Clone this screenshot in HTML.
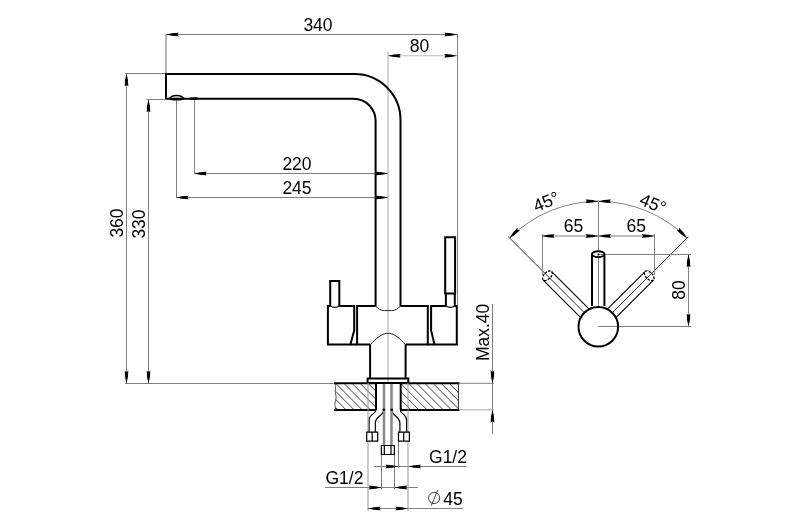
<!DOCTYPE html>
<html><head><meta charset="utf-8"><style>
html,body{margin:0;padding:0;background:#fff;}
svg{display:block;will-change:transform;}
text{font-family:"Liberation Sans",sans-serif;fill:#000;}
</style></head><body>
<svg width="800" height="527" viewBox="0 0 800 527">
<rect width="800" height="527" fill="#fff"/>
<line x1="166" y1="34.5" x2="457" y2="34.5" stroke="#808080" stroke-width="1" fill="none"/>
<line x1="166" y1="34" x2="166" y2="73" stroke="#707070" stroke-width="1"/>
<line x1="457.5" y1="33.5" x2="457.5" y2="305" stroke="#808080" stroke-width="1" fill="none"/>
<text x="318" y="31" font-size="17.5" text-anchor="middle">340</text>
<line x1="388" y1="55.8" x2="457" y2="55.8" stroke="#b8b8b8" stroke-width="1"/>
<line x1="388" y1="52" x2="388" y2="120" stroke="#a8a8a8" stroke-width="1" fill="none"/>
<text x="419.5" y="52.3" font-size="17.5" text-anchor="middle">80</text>
<line x1="194" y1="173.5" x2="388" y2="173.5" stroke="#808080" stroke-width="1" fill="none"/>
<line x1="194.5" y1="99" x2="194.5" y2="173.5" stroke="#808080" stroke-width="1" fill="none"/>
<text x="297" y="169.8" font-size="17.5" text-anchor="middle">220</text>
<line x1="176" y1="197.5" x2="388" y2="197.5" stroke="#808080" stroke-width="1" fill="none"/>
<line x1="176.5" y1="99" x2="176.5" y2="197.5" stroke="#808080" stroke-width="1" fill="none"/>
<text x="297" y="193.8" font-size="17.5" text-anchor="middle">245</text>
<line x1="126.5" y1="73.5" x2="126.5" y2="383" stroke="#808080" stroke-width="1" fill="none"/>
<line x1="125" y1="73.5" x2="165" y2="73.5" stroke="#808080" stroke-width="1" fill="none"/>
<line x1="125" y1="383.5" x2="334" y2="383.5" stroke="#808080" stroke-width="1" fill="none"/>
<text x="123" y="223" font-size="17.5" text-anchor="middle" transform="rotate(-90 123 223)">360</text>
<line x1="148.5" y1="99.5" x2="148.5" y2="383" stroke="#808080" stroke-width="1" fill="none"/>
<line x1="146.5" y1="99.5" x2="166" y2="99.5" stroke="#808080" stroke-width="1" fill="none"/>
<text x="144.5" y="224" font-size="17.5" text-anchor="middle" transform="rotate(-90 144.5 224)">330</text>
<line x1="492.5" y1="304" x2="492.5" y2="434" stroke="#808080" stroke-width="1" fill="none"/>
<line x1="460" y1="383.3" x2="494" y2="383.3" stroke="#808080" stroke-width="1" fill="none"/>
<line x1="460" y1="409.8" x2="494" y2="409.8" stroke="#a8a8a8" stroke-width="1" fill="none"/>
<text x="488.8" y="332.4" font-size="17.5" text-anchor="middle" transform="rotate(-90 488.8 332.4)">Max.40</text>
<line x1="374" y1="466.5" x2="466.5" y2="466.5" stroke="#808080" stroke-width="1" fill="none"/>
<text x="448" y="462.7" font-size="17.5" text-anchor="middle">G1/2</text>
<line x1="325" y1="487.5" x2="418" y2="487.5" stroke="#808080" stroke-width="1" fill="none"/>
<text x="344.4" y="484" font-size="17.5" text-anchor="middle">G1/2</text>
<line x1="368" y1="508.5" x2="463" y2="508.5" stroke="#808080" stroke-width="1" fill="none"/>
<text x="453" y="504.8" font-size="17.5" text-anchor="middle">45</text>
<circle cx="434.1" cy="498" r="5.6" stroke="#333" stroke-width="0.9" fill="none"/>
<line x1="431.2" y1="505.7" x2="437.8" y2="490" stroke="#333" stroke-width="0.9"/>
<line x1="368" y1="441" x2="368" y2="511" stroke="#999" stroke-width="1" fill="none"/>
<line x1="408" y1="441" x2="408" y2="511" stroke="#999" stroke-width="1" fill="none"/>
<line x1="381.5" y1="454" x2="381.5" y2="489" stroke="#808080" stroke-width="1" fill="none"/>
<line x1="394.5" y1="454" x2="394.5" y2="489" stroke="#808080" stroke-width="1" fill="none"/>
<line x1="398.5" y1="441" x2="398.5" y2="468" stroke="#808080" stroke-width="1" fill="none"/>
<path d="M166,74 H354.5 A46,46 0 0 1 400.5,120 V306" stroke="#000" stroke-width="2" fill="none"/>
<path d="M166,73 V99" stroke="#000" stroke-width="2" fill="none"/>
<path d="M166,98.8 H353.5 A22,22 0 0 1 375.6,120.8 V306" stroke="#000" stroke-width="2" fill="none"/>
<path d="M169.8,98.9 A6.8,3.4 0 0 1 183.4,98.9" stroke="#000" stroke-width="1.7" fill="none"/>
<ellipse cx="176.6" cy="99.2" rx="7" ry="1.4" fill="#000"/>
<ellipse cx="194.2" cy="98.5" rx="4.5" ry="1.3" fill="#000"/>
<line x1="388" y1="120" x2="388" y2="383" stroke="#a8a8a8" stroke-width="1" fill="none"/>
<path d="M330.2,306 V281 H339.3 V306" stroke="#000" stroke-width="2" fill="none"/>
<path d="M445.9,306 V293.4 H445.2 V237.3 H455.1 V293.4 H454.8 V306 M445.2,293.4 H455.1" stroke="#000" stroke-width="2" fill="none"/>
<path d="M339.3,306 H354.2 V330.4 L350.4,344.6 H327.9 V306 H330.2" stroke="#000" stroke-width="2" fill="none"/>
<path d="M330.2,306 Q334.75,308.6 339.3,306" stroke="#000" stroke-width="1.3" fill="none"/>
<path d="M454.8,306 H456.8 V344.6 H434.5 L431.1,330.4 V306 H445.9" stroke="#000" stroke-width="2" fill="none"/>
<path d="M445.9,306 Q450.35,308.6 454.8,306" stroke="#000" stroke-width="1.3" fill="none"/>
<path d="M375.6,306 H357.1 V344.6 H370.1 M405.6,344.6 H427.8 V306 H400.5" stroke="#000" stroke-width="2" fill="none"/>
<path d="M375.6,306 C378,309 381,310.6 384.5,310.6 H391.3 C395,310.6 398,309 400.5,306" stroke="#222" stroke-width="1" fill="none"/>
<path d="M370.4,344.6 C376,338.5 382,333.6 386.5,333.4 H389.5 C394,333.6 400,338.5 405.4,344.6" stroke="#222" stroke-width="1" fill="none"/>
<path d="M350.4,344.6 H357.1 M427.8,344.6 H434.5" stroke="#000" stroke-width="2" fill="none"/>
<path d="M370.1,344.6 V378.4 M405.6,344.6 V378.4" stroke="#000" stroke-width="2" fill="none"/>
<path d="M367.6,378.4 H408.3 V383 H367.6 Z" stroke="#000" stroke-width="2" fill="none"/>
<defs><clipPath id="cl"><path d="M335.3,383.2 H376 V409.9 H335.3 Z M400.7,383.2 H459 V409.9 H400.7 Z"/></clipPath></defs>
<g clip-path="url(#cl)" stroke="#404040" stroke-width="1"><line x1="238.20000000000005" y1="383" x2="265.20000000000005" y2="410"/><line x1="246.30000000000004" y1="383" x2="273.30000000000007" y2="410"/><line x1="254.40000000000003" y1="383" x2="281.40000000000003" y2="410"/><line x1="262.5" y1="383" x2="289.5" y2="410"/><line x1="270.6" y1="383" x2="297.6" y2="410"/><line x1="278.70000000000005" y1="383" x2="305.70000000000005" y2="410"/><line x1="286.8" y1="383" x2="313.8" y2="410"/><line x1="294.9" y1="383" x2="321.9" y2="410"/><line x1="303.0" y1="383" x2="330.0" y2="410"/><line x1="311.1" y1="383" x2="338.1" y2="410"/><line x1="319.2" y1="383" x2="346.2" y2="410"/><line x1="327.3" y1="383" x2="354.3" y2="410"/><line x1="335.4" y1="383" x2="362.4" y2="410"/><line x1="343.5" y1="383" x2="370.5" y2="410"/><line x1="351.6" y1="383" x2="378.6" y2="410"/><line x1="359.7" y1="383" x2="386.7" y2="410"/><line x1="367.8" y1="383" x2="394.8" y2="410"/><line x1="375.9" y1="383" x2="402.9" y2="410"/><line x1="384.0" y1="383" x2="411.0" y2="410"/><line x1="392.1" y1="383" x2="419.1" y2="410"/><line x1="400.2" y1="383" x2="427.2" y2="410"/><line x1="408.3" y1="383" x2="435.3" y2="410"/><line x1="416.4" y1="383" x2="443.4" y2="410"/><line x1="424.5" y1="383" x2="451.5" y2="410"/><line x1="432.6" y1="383" x2="459.6" y2="410"/><line x1="440.7" y1="383" x2="467.7" y2="410"/><line x1="448.8" y1="383" x2="475.8" y2="410"/><line x1="456.9" y1="383" x2="483.9" y2="410"/><line x1="465.0" y1="383" x2="492.0" y2="410"/><line x1="473.1" y1="383" x2="500.1" y2="410"/><line x1="481.2" y1="383" x2="508.2" y2="410"/><line x1="489.29999999999995" y1="383" x2="516.3" y2="410"/><line x1="497.4" y1="383" x2="524.4" y2="410"/></g>
<path d="M334,383.2 H376 M400.7,383.2 H459.5 M334,409.9 H376 M400.7,409.9 H459.5" stroke="#000" stroke-width="2" fill="none"/>
<path d="M376,383.2 V409.9 M400.7,383.2 V409.9" stroke="#000" stroke-width="2" fill="none"/>
<path d="M335.4,384 C336.4,387 334.6,390 335.4,393 S336.4,399 335.2,402 S335.9,407 335.5,409.5" stroke="#555" stroke-width="1" fill="none"/>
<line x1="458.4" y1="383.2" x2="458.4" y2="409.9" stroke="#333" stroke-width="1"/>
<path d="M376,409.9 C376,414 369.1,414 369.1,420 V432.2" stroke="#000" stroke-width="1.2" fill="none"/>
<path d="M383.8,409.7 C383.8,416 375.3,416 375.3,423 V432.2" stroke="#000" stroke-width="1.2" fill="none"/>
<path d="M400.3,409.9 C400.3,414 406.6,414 406.6,420 V432.2" stroke="#000" stroke-width="1.2" fill="none"/>
<path d="M391.7,409.7 C391.7,416 399.9,416 399.9,423 V432.2" stroke="#000" stroke-width="1.2" fill="none"/>
<line x1="384" y1="384" x2="384" y2="445.5" stroke="#888" stroke-width="2.5"/>
<line x1="391.5" y1="384" x2="391.5" y2="445.5" stroke="#888" stroke-width="2.5"/>
<circle cx="383.8" cy="409.7" r="1.3" fill="#000"/><circle cx="391.7" cy="409.7" r="1.3" fill="#000"/>
<line x1="368" y1="383" x2="368" y2="441" stroke="#999" stroke-width="1" fill="none"/>
<line x1="408" y1="383" x2="408" y2="441" stroke="#999" stroke-width="1" fill="none"/>
<path d="M366.7,432.2 H377.7 V441.2 H366.7 Z M372.2,432.2 V441.2" stroke="#000" stroke-width="1.2" fill="#fff"/>
<path d="M398.5,432.2 H409.4 V441.2 H398.5 Z M403.7,432.2 V441.2" stroke="#000" stroke-width="1.2" fill="#fff"/>
<path d="M381.4,445.5 H394.3 V454.5 H381.4 Z M384.3,445.5 V454.5 M391,445.5 V454.5" stroke="#000" stroke-width="1.2" fill="#fff"/>
<line x1="598.5" y1="200" x2="598.5" y2="326" stroke="#808080" stroke-width="1" fill="none"/>
<path d="M509.63,238.03 A125.4,125.4 0 0 1 686.97,238.03" stroke="#808080" stroke-width="1" fill="none"/>
<line x1="584.157864376269" y1="312.55786437626904" x2="508.2145960768338" y2="236.61459607683383" stroke="#333" stroke-width="1"/>
<line x1="612.4421356237309" y1="312.55786437626904" x2="688.3854039231661" y2="236.61459607683383" stroke="#333" stroke-width="1"/>
<line x1="541.8" y1="236" x2="654.5" y2="236" stroke="#808080" stroke-width="1" fill="none"/>
<line x1="542.5" y1="234" x2="542.5" y2="275" stroke="#808080" stroke-width="1" fill="none"/>
<line x1="654.5" y1="234" x2="654.5" y2="275" stroke="#808080" stroke-width="1" fill="none"/>
<text x="573.5" y="232.2" font-size="17.5" text-anchor="middle">65</text>
<text x="636.3" y="232.2" font-size="17.5" text-anchor="middle">65</text>
<text x="548.5" y="207.1" font-size="17.5" text-anchor="middle" transform="rotate(-22.5 548.5 207.1)">45°</text>
<text x="650.7" y="209" font-size="17.5" text-anchor="middle" transform="rotate(22.5 650.7 209)">45°</text>
<line x1="688.5" y1="254.5" x2="688.5" y2="326.5" stroke="#808080" stroke-width="1" fill="none"/>
<text x="685.2" y="290.1" font-size="17.5" text-anchor="middle" transform="rotate(-90 685.2 290.1)">80</text>
<path d="M591.94,311.85 L551.63,271.55 M583.45,320.34 L543.15,280.03" stroke="#000" stroke-width="1.1" fill="none"/>
<ellipse cx="547.39" cy="275.79" rx="3.4" ry="6" transform="rotate(-135 547.39 275.79)" stroke="#000" stroke-width="1.3" fill="none" stroke-dasharray="2.4 1.3"/>
<path d="M613.15,320.34 L653.45,280.03 M604.66,311.85 L644.97,271.55" stroke="#000" stroke-width="1.1" fill="none"/>
<ellipse cx="649.21" cy="275.79" rx="3.4" ry="6" transform="rotate(-45 649.21 275.79)" stroke="#000" stroke-width="1.3" fill="none" stroke-dasharray="2.4 1.3"/>
<path d="M592,306 V254.5 M604.4,306 V254.5" stroke="#000" stroke-width="2" fill="none"/>
<ellipse cx="598.2" cy="254.2" rx="6.3" ry="2.9" stroke="none" fill="#fff"/>
<line x1="598.3" y1="254.5" x2="691" y2="254.5" stroke="#808080" stroke-width="1" fill="none"/>
<circle cx="598.4" cy="254.4" r="1" fill="#000"/>
<ellipse cx="598.2" cy="254.2" rx="6.3" ry="2.9" stroke="#000" stroke-width="1.9" fill="none"/>
<circle cx="598.3" cy="326.7" r="19.8" stroke="none" fill="#fff"/>
<line x1="598.3" y1="326.5" x2="691" y2="326.5" stroke="#808080" stroke-width="1" fill="none"/>
<circle cx="598.3" cy="326.7" r="19.8" stroke="#000" stroke-width="2" fill="none"/>
<path d="M166.00,34.50 Q172.40,32.52 178.80,32.70 L177.40,34.50 L178.80,36.30 Q172.40,36.48 166.00,34.50Z" fill="#000" stroke="none"/>
<path d="M457.00,34.50 Q450.60,36.48 444.20,36.30 L445.60,34.50 L444.20,32.70 Q450.60,32.52 457.00,34.50Z" fill="#000" stroke="none"/>
<path d="M388.00,55.80 Q394.40,53.82 400.80,54.00 L399.40,55.80 L400.80,57.60 Q394.40,57.78 388.00,55.80Z" fill="#000" stroke="none"/>
<path d="M457.00,55.80 Q450.60,57.78 444.20,57.60 L445.60,55.80 L444.20,54.00 Q450.60,53.82 457.00,55.80Z" fill="#000" stroke="none"/>
<path d="M194.00,173.50 Q200.40,171.52 206.80,171.70 L205.40,173.50 L206.80,175.30 Q200.40,175.48 194.00,173.50Z" fill="#000" stroke="none"/>
<path d="M388.00,173.50 Q381.60,175.48 375.20,175.30 L376.60,173.50 L375.20,171.70 Q381.60,171.52 388.00,173.50Z" fill="#000" stroke="none"/>
<path d="M176.00,197.50 Q182.40,195.52 188.80,195.70 L187.40,197.50 L188.80,199.30 Q182.40,199.48 176.00,197.50Z" fill="#000" stroke="none"/>
<path d="M388.00,197.50 Q381.60,199.48 375.20,199.30 L376.60,197.50 L375.20,195.70 Q381.60,195.52 388.00,197.50Z" fill="#000" stroke="none"/>
<path d="M126.50,73.50 Q128.48,79.90 128.30,86.30 L126.50,84.90 L124.70,86.30 Q124.52,79.90 126.50,73.50Z" fill="#000" stroke="none"/>
<path d="M126.50,383.50 Q124.52,377.10 124.70,370.70 L126.50,372.10 L128.30,370.70 Q128.48,377.10 126.50,383.50Z" fill="#000" stroke="none"/>
<path d="M148.50,99.50 Q150.48,105.90 150.30,112.30 L148.50,110.90 L146.70,112.30 Q146.52,105.90 148.50,99.50Z" fill="#000" stroke="none"/>
<path d="M148.50,383.50 Q146.52,377.10 146.70,370.70 L148.50,372.10 L150.30,370.70 Q150.48,377.10 148.50,383.50Z" fill="#000" stroke="none"/>
<path d="M492.50,383.30 Q490.52,376.90 490.70,370.50 L492.50,371.90 L494.30,370.50 Q494.48,376.90 492.50,383.30Z" fill="#000" stroke="none"/>
<path d="M492.50,409.80 Q494.48,416.20 494.30,422.60 L492.50,421.20 L490.70,422.60 Q490.52,416.20 492.50,409.80Z" fill="#000" stroke="none"/>
<path d="M398.30,466.50 Q391.90,468.48 385.50,468.30 L386.90,466.50 L385.50,464.70 Q391.90,464.52 398.30,466.50Z" fill="#000" stroke="none"/>
<path d="M408.20,466.50 Q414.60,464.52 421.00,464.70 L419.60,466.50 L421.00,468.30 Q414.60,468.48 408.20,466.50Z" fill="#000" stroke="none"/>
<path d="M381.50,487.50 Q375.10,489.48 368.70,489.30 L370.10,487.50 L368.70,485.70 Q375.10,485.52 381.50,487.50Z" fill="#000" stroke="none"/>
<path d="M394.50,487.50 Q400.90,485.52 407.30,485.70 L405.90,487.50 L407.30,489.30 Q400.90,489.48 394.50,487.50Z" fill="#000" stroke="none"/>
<path d="M368.00,508.50 Q374.40,506.52 380.80,506.70 L379.40,508.50 L380.80,510.30 Q374.40,510.48 368.00,508.50Z" fill="#000" stroke="none"/>
<path d="M408.00,508.50 Q401.60,510.48 395.20,510.30 L396.60,508.50 L395.20,506.70 Q401.60,506.52 408.00,508.50Z" fill="#000" stroke="none"/>
<path d="M509.63,238.03 Q512.75,232.10 517.41,227.71 L517.69,229.97 L519.95,230.25 Q515.55,234.90 509.63,238.03Z" fill="#000" stroke="none"/>
<path d="M598.30,201.30 Q591.90,203.28 585.50,203.10 L586.90,201.30 L585.50,199.50 Q591.90,199.32 598.30,201.30Z" fill="#000" stroke="none"/>
<path d="M598.30,201.30 Q604.70,199.32 611.10,199.50 L609.70,201.30 L611.10,203.10 Q604.70,203.28 598.30,201.30Z" fill="#000" stroke="none"/>
<path d="M686.97,238.03 Q681.05,234.90 676.65,230.25 L678.91,229.97 L679.19,227.71 Q683.85,232.10 686.97,238.03Z" fill="#000" stroke="none"/>
<path d="M541.80,236.00 Q548.20,234.02 554.60,234.20 L553.20,236.00 L554.60,237.80 Q548.20,237.98 541.80,236.00Z" fill="#000" stroke="none"/>
<path d="M598.30,236.00 Q591.90,237.98 585.50,237.80 L586.90,236.00 L585.50,234.20 Q591.90,234.02 598.30,236.00Z" fill="#000" stroke="none"/>
<path d="M598.30,236.00 Q604.70,234.02 611.10,234.20 L609.70,236.00 L611.10,237.80 Q604.70,237.98 598.30,236.00Z" fill="#000" stroke="none"/>
<path d="M654.50,236.00 Q648.10,237.98 641.70,237.80 L643.10,236.00 L641.70,234.20 Q648.10,234.02 654.50,236.00Z" fill="#000" stroke="none"/>
<path d="M688.50,254.50 Q690.48,260.90 690.30,267.30 L688.50,265.90 L686.70,267.30 Q686.52,260.90 688.50,254.50Z" fill="#000" stroke="none"/>
<path d="M688.50,326.50 Q686.52,320.10 686.70,313.70 L688.50,315.10 L690.30,313.70 Q690.48,320.10 688.50,326.50Z" fill="#000" stroke="none"/>
</svg></body></html>
